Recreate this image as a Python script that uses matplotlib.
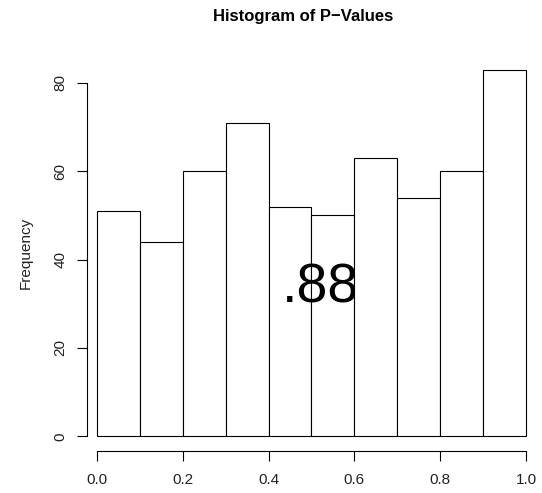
import matplotlib
matplotlib.use("Agg")
import matplotlib.pyplot as plt
from matplotlib.patches import Rectangle

plt.rcParams['font.family'] = ['Liberation Sans', 'DejaVu Sans']

# histogram of p-values, 10 bins of width 0.1
bin_edges = [0.0, 0.1, 0.2, 0.3, 0.4, 0.5, 0.6, 0.7, 0.8, 0.9, 1.0]
counts = [51, 44, 60, 71, 52, 50, 63, 54, 60, 83]
x_ticks = [0.0, 0.2, 0.4, 0.6, 0.8, 1.0]
y_ticks = [0, 20, 40, 60, 80]

fig = plt.figure(figsize=(5.42, 4.93), dpi=100)
ax = fig.add_axes([0.1605, 0.0852, 0.8284, 0.8032])

ax.bar(bin_edges[:-1], counts, width=0.1, align="edge",
       facecolor="white", edgecolor="black", linewidth=0.8)

ax.set_xlim(-0.0233, 1.0233)
ax.set_ylim(-3.32, 86.32)

for s in ["top", "right"]:
    ax.spines[s].set_visible(False)
ax.spines["left"].set_bounds(0, 80)
ax.spines["bottom"].set_bounds(0, 1)
ax.spines["left"].set_linewidth(0.8)
ax.spines["bottom"].set_linewidth(0.8)

ax.set_xticks(x_ticks)
ax.set_xticklabels(["%.1f" % v for v in x_ticks])
ax.set_yticks(y_ticks)
ax.set_yticklabels([str(v) for v in y_ticks], rotation=90, va="center")
ax.tick_params(direction="out", length=7, width=0.8, labelsize=11,
               colors="black", labelcolor="#222222", pad=9)
ax.tick_params(axis="y", pad=7)

ax.set_ylabel("Frequency", fontsize=11, color="#222222", labelpad=15)
fig.text(0.559, 0.966, "Histogram of P\u2212Values", ha="center", va="center",
         fontsize=12, fontweight="bold")

# big overlay text, clipped at the right edge of the 0.5-0.6 bar
clip = Rectangle((-1, -10), 1.6, 200, transform=ax.transData)
t = ax.text(0.432, 33.4, ".88", fontsize=40, ha="left", va="center",
            clip_on=True)
t.set_clip_path(clip)

fig.savefig("out.png", dpi=100)
